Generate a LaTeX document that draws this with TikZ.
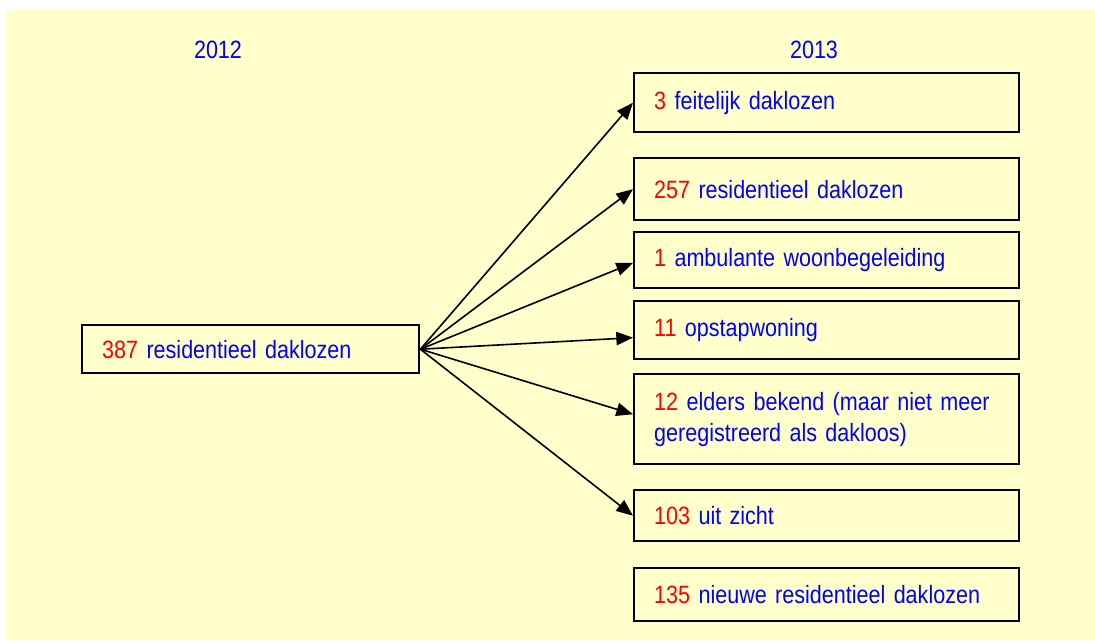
\documentclass[tikz,border=0pt]{standalone}
\usepackage{fontspec}
\setmainfont{Liberation Sans}[FakeStretch=0.86]
\usetikzlibrary{arrows.meta}
\definecolor{bg}{RGB}{255,255,204}
\definecolor{nr}{RGB}{255,0,0}
\definecolor{tx}{RGB}{0,0,255}
\newcommand{\num}[1]{\textcolor{nr}{#1}}
\newcommand{\boxfont}{\fontsize{18.8}{23.5}\selectfont\spaceskip=0.2em plus 0.1em\relax}
\begin{document}
\begin{tikzpicture}[x=0.75pt,y=-0.75pt,
  every node/.style={font=\boxfont, text=tx},
  box/.style 2 args={draw=black, line width=1.8pt, fill=bg, anchor=north west,
     inner xsep=15pt, inner ysep=0pt, text width=#1, minimum height=#2, align=left},
  rbox/.style={box={258.75pt}{#1}},
  year/.style={inner sep=0pt},
  arr/.style={draw=black, line width=1.2pt, -{Triangle[length=12.5pt,width=10pt]}}]
\useasboundingbox (0,0) rectangle (1095,640);
\fill[white] (0,0) rectangle (1095,640);
\fill[bg] (6,9) rectangle (1095,640);
\node[year] (y12) at (218,50) {2012};
\node[year] (y13) at (814,50) {2013};
\node[box={222.75pt}{36pt}] (L) at (81,324) {\num{387} residentieel daklozen};
\node[rbox=44.25pt] (b1) at (633,72) {\num{3} feitelijk daklozen};
\node[rbox=46.5pt] (b2) at (633,157) {\num{257} residentieel daklozen};
\node[rbox=42pt] (b3) at (633,231) {\num{1} ambulante woonbegeleiding};
\node[rbox=43.5pt] (b4) at (633,300) {\num{11} opstapwoning};
\node[rbox=67.5pt] (b5) at (633,373) {\num{12} elders bekend (maar niet meer\\geregistreerd als dakloos)};
\node[rbox=38.25pt] (b6) at (633,489) {\num{103} uit zicht};
\node[rbox=39.75pt] (b7) at (633,567) {\num{135} nieuwe residentieel daklozen};
\draw[arr] (L.east) -- (b1.west);
\draw[arr] (L.east) -- (b2.west);
\draw[arr] (L.east) -- ([yshift=-2pt]b3.west);
\draw[arr] (L.east) -- ([yshift=-5.6pt]b4.west);
\draw[arr] (L.east) -- ([yshift=3.7pt]b5.west);
\draw[arr] (L.east) -- (b6.west);
\end{tikzpicture}
\end{document}
